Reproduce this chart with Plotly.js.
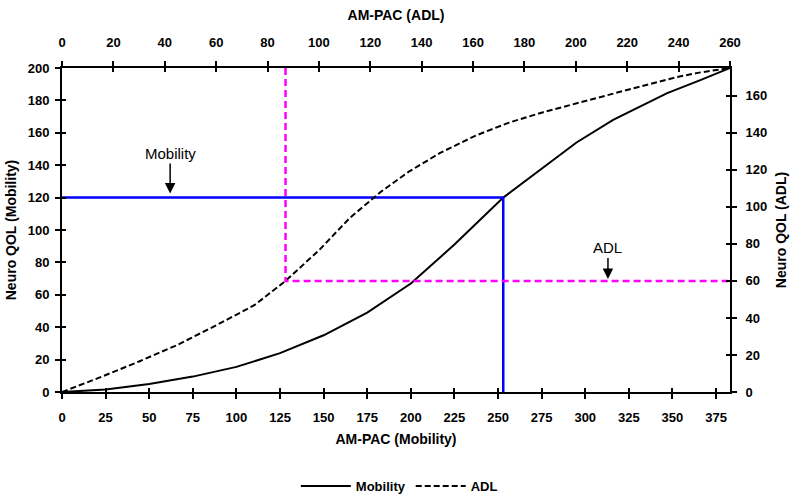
<!DOCTYPE html>
<html>
<head>
<meta charset="utf-8">
<script src="https://cdn.plot.ly/plotly-3.0.1.min.js"></script>
<style>html,body{margin:0;padding:0;background:#fff;}#chart{width:800px;height:502px;}</style>
</head>
<body>
<div id="chart"></div>
<script>
// Mobility curve: AM-PAC (Mobility) vs Neuro QOL (Mobility)  (bottom / left axes)
var mobX = [0, 10, 25, 50, 75, 100, 125, 150, 175, 200, 225, 253, 275, 295, 316, 347, 366, 383];
var mobY = [0, 0.5, 1.5, 5, 9.5, 15.5, 24, 35, 49, 67, 91, 120, 138, 154, 168, 184.5, 192.5, 200];
// ADL curve: AM-PAC (ADL) vs Neuro QOL (ADL)  (top / right axes)
var adlX = [0, 15, 30, 45, 60, 75, 87, 100, 112, 124, 135, 147, 161, 174, 187, 199, 214, 225, 239, 248, 260];
var adlY = [0, 8, 16.5, 25.5, 36, 47, 60, 76.5, 94, 108, 119, 129, 138.5, 145.5, 151, 155.5, 161, 165, 170, 172.5, 175];
// reference cut points
var mobRefX = 253, mobRefY = 120;
var adlRefX = 87, adlRefY = 60;
// axis ranges
var mobXRange = [0, 383], mobYRange = [0, 200];
var adlXRange = [0, 260], adlYRange = [0, 175];
// annotation positions (data units)
var mobArrowX = 62;
var adlArrowX = 212.5;

var F = 'Arial, "Liberation Sans", Helvetica, sans-serif';
var tickFont = {family: F, size: 13, color: '#000', weight: 'bold'};
var titleFont = {family: F, size: 14, color: '#000', weight: 'bold'};

var traces = [
  {x: mobX, y: mobY, xaxis: 'x', yaxis: 'y', mode: 'lines', name: 'Mobility',
   line: {color: '#000', width: 2}},
  {x: adlX, y: adlY, xaxis: 'x2', yaxis: 'y2', mode: 'lines', name: 'ADL',
   line: {color: '#000', width: 2, dash: '6px,3px'}},
  {x: [0, mobRefX, mobRefX], y: [mobRefY, mobRefY, 0], xaxis: 'x', yaxis: 'y', mode: 'lines',
   showlegend: false, hoverinfo: 'skip', line: {color: '#0000FF', width: 2.5}},
  {x: [adlRefX, adlRefX, adlXRange[1]], y: [adlYRange[1], adlRefY, adlRefY], xaxis: 'x2', yaxis: 'y2', mode: 'lines',
   showlegend: false, hoverinfo: 'skip', line: {color: '#FF00FF', width: 2.5, dash: '7px,4px'}},
  // helper traces so the inner-tick duplicate axes are drawn
  {x: [null], y: [null], xaxis: 'x3', yaxis: 'y', showlegend: false, hoverinfo: 'skip', mode: 'lines'},
  {x: [null], y: [null], xaxis: 'x4', yaxis: 'y', showlegend: false, hoverinfo: 'skip', mode: 'lines'},
  {x: [null], y: [null], xaxis: 'x', yaxis: 'y3', showlegend: false, hoverinfo: 'skip', mode: 'lines'},
  {x: [null], y: [null], xaxis: 'x', yaxis: 'y4', showlegend: false, hoverinfo: 'skip', mode: 'lines'}
];

function inner(base) {
  return Object.assign({showticklabels: false, ticks: 'inside', ticklen: 4, tickwidth: 2, tickcolor: '#000',
    showgrid: false, zeroline: false, showline: false, fixedrange: true, automargin: false}, base);
}

var layout = {
  width: 800, height: 502,
  margin: {l: 62, r: 70, t: 68, b: 110, autoexpand: false},
  paper_bgcolor: '#fff', plot_bgcolor: '#fff',
  showlegend: true,
  legend: {orientation: 'h', x: 0.505, xanchor: 'center', y: -0.29, yanchor: 'middle',
           font: {family: F, size: 13, color: '#000', weight: 'bold'}, itemwidth: 50},
  xaxis: {range: mobXRange, dtick: 25, tick0: 0, side: 'bottom', anchor: 'y', automargin: false,
          showline: true, linecolor: '#000', linewidth: 2, ticks: 'outside', ticklen: 5, tickwidth: 2, tickcolor: '#000',
          showgrid: false, zeroline: false, tickfont: tickFont, ticklabelstandoff: 7,
          title: {text: 'AM-PAC (Mobility)', font: titleFont, standoff: 11}},
  xaxis2: {range: adlXRange, dtick: 20, tick0: 0, side: 'top', overlaying: 'x', anchor: 'y', automargin: false,
          showline: true, linecolor: '#000', linewidth: 2, ticks: 'outside', ticklen: 5, tickwidth: 2, tickcolor: '#000',
          showgrid: false, zeroline: false, tickfont: tickFont, ticklabelstandoff: 9,
          title: {text: 'AM-PAC (ADL)', font: titleFont, standoff: 11}},
  yaxis: {range: mobYRange, dtick: 20, tick0: 0, side: 'left', anchor: 'x', automargin: false,
          showline: true, linecolor: '#000', linewidth: 2, ticks: 'outside', ticklen: 5, tickwidth: 2, tickcolor: '#000',
          showgrid: false, zeroline: false, tickfont: tickFont, ticklabelstandoff: 3,
          title: {text: 'Neuro QOL (Mobility)', font: titleFont, standoff: 8}},
  yaxis2: {range: adlYRange, dtick: 20, tick0: 0, side: 'right', overlaying: 'y', anchor: 'x', automargin: false,
          showline: true, linecolor: '#000', linewidth: 2, ticks: 'outside', ticklen: 5, tickwidth: 2, tickcolor: '#000',
          showgrid: false, zeroline: false, tickfont: tickFont, ticklabelstandoff: 6,
          title: {text: 'Neuro QOL (ADL)', font: titleFont, standoff: 10}},
  xaxis3: inner({range: mobXRange, dtick: 25, tick0: 0, side: 'bottom', overlaying: 'x', anchor: 'y'}),
  xaxis4: inner({range: adlXRange, dtick: 20, tick0: 0, side: 'top', overlaying: 'x', anchor: 'y'}),
  yaxis3: inner({range: mobYRange, dtick: 20, tick0: 0, side: 'left', overlaying: 'y', anchor: 'x'}),
  yaxis4: inner({range: adlYRange, dtick: 20, tick0: 0, side: 'right', overlaying: 'y', anchor: 'x'}),
  annotations: [
    {x: mobArrowX, y: mobRefY, xref: 'x', yref: 'y', text: 'Mobility', showarrow: true,
     ax: 0, ay: -44, arrowhead: 2, arrowsize: 1.4, arrowwidth: 1.5, arrowcolor: '#000', standoff: 4,
     font: {family: F, size: 15, color: '#000'}},
    {x: adlArrowX, y: adlRefY, xref: 'x2', yref: 'y2', text: 'ADL', showarrow: true,
     ax: 0, ay: -33, arrowhead: 2, arrowsize: 1.4, arrowwidth: 1.5, arrowcolor: '#000', standoff: 2,
     font: {family: F, size: 15, color: '#000'}}
  ]
};

Plotly.newPlot('chart', traces, layout, {displayModeBar: false, staticPlot: true});
</script>
</body>
</html>
